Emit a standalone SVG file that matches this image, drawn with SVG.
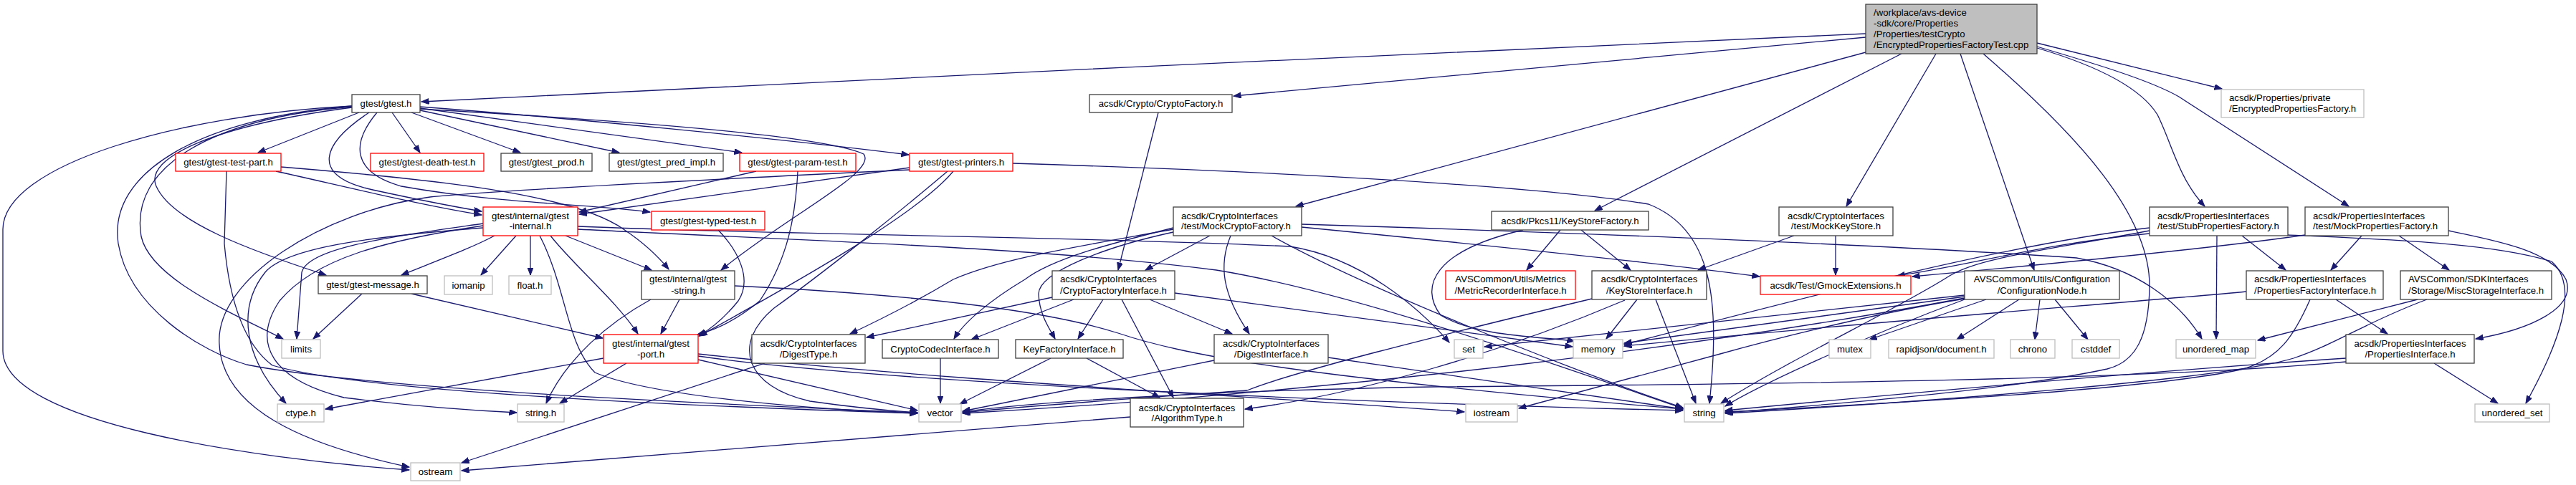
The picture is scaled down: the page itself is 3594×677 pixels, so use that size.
<svg xmlns="http://www.w3.org/2000/svg" width="3594" height="677" viewBox="0 0 3594 677">
<style>
.n rect{fill:#fff;stroke-width:1.3}
.k rect{stroke:#404040}
.r rect{stroke:#ff0000}
.g rect{stroke:#bfbfbf}
text{font-family:"Liberation Sans",Arial,sans-serif;font-size:13.2px;fill:#000}
.c text{text-anchor:middle}
#connectors path{fill:none;stroke:#191970;stroke-width:1.3;marker-end:url(#a)}
</style>
<defs>
<marker id="a" markerUnits="userSpaceOnUse" markerWidth="12" markerHeight="9" refX="10.5" refY="4" orient="auto"><path d="M0,0 L10.5,4 L0,8 z" fill="#191970" stroke="#191970" stroke-width="1"/></marker>
</defs>
<rect width="3594" height="677" fill="#fff"/>
<g id="connectors">
<path d="M2603,47 C2000,72 1200,112 588,142"/>
<path d="M2603,52 L1721,134"/>
<path d="M2603,73 L1808,288"/>
<path d="M2653,75 L2225,294"/>
<path d="M2701,75 L2576,288"/>
<path d="M2735,75 L2838,377"/>
<path d="M2767,75 C2900,190 3000,300 2999,400 C2998,470 2980,505 2940,515 C2800,545 2550,565 2407,576"/>
<path d="M2842,60 L3100,124"/>
<path d="M2842,65 C2920,88 3000,112 3040,135 L3277,288"/>
<path d="M2842,67 C2920,90 2985,120 3010,160 C3030,200 3040,250 3076,288"/>
<path d="M501,157 L360,213"/>
<path d="M547,157 L586,213"/>
<path d="M574,157 L726,213"/>
<path d="M586,154 L864,213"/>
<path d="M586,151 L1035,213"/>
<path d="M586,149 C800,165 1100,195 1268,216"/>
<path d="M515,157 C450,200 430,245 520,265 C580,278 630,288 672,295"/>
<path d="M526,157 C490,200 490,240 560,260 C700,285 830,285 907,296"/>
<path d="M586,152 C900,170 1150,190 1205,215 C1225,240 1100,300 1006,377"/>
<path d="M491,150 C300,175 200,220 218,260 C240,310 350,350 455,384"/>
<path d="M491,149 C300,165 180,230 197,330 C210,390 330,440 395,473"/>
<path d="M491,148 C250,160 5,230 4,320 L4,490 C5,590 350,640 571,656"/>
<path d="M491,148 C280,165 150,240 165,340 C180,430 280,490 344,509 C500,540 900,560 1280,576"/>
<path d="M392,233 C600,250 800,270 870,320 C900,340 920,360 933,376"/>
<path d="M385,239 C480,260 580,285 672,300"/>
<path d="M316,239 L313,340 C320,420 340,480 380,510 C500,545 900,565 1280,577"/>
<path d="M690,329 C660,345 620,360 560,384"/>
<path d="M720,329 L671,384"/>
<path d="M740,329 L740,384"/>
<path d="M768,329 C800,370 860,420 890,466"/>
<path d="M789,329 L909,377"/>
<path d="M753,329 C790,400 790,480 830,520 C900,550 1100,570 1280,577"/>
<path d="M806,316 C1100,328 1500,330 1800,344 C1900,360 1980,430 2022,478"/>
<path d="M806,320 C1100,335 1450,345 1697,377 C1900,410 2200,520 2348,570"/>
<path d="M674,312 C550,330 430,345 421,380 L414,473"/>
<path d="M674,315 C540,335 440,360 390,420 C350,480 380,530 480,555 C600,570 680,574 721,576"/>
<path d="M674,318 C520,330 400,345 370,380 C330,430 340,500 399,563"/>
<path d="M1269,234 L808,299"/>
<path d="M1330,239 C1280,300 1100,400 976,469"/>
<path d="M1269,237 C1000,250 700,265 600,275 C450,295 300,390 306,480 C310,570 420,620 571,652"/>
<path d="M1322,239 C1250,300 1150,380 1080,430 C1020,480 1040,540 1130,560 C1200,570 1250,574 1280,576"/>
<path d="M1413,228 C1800,240 2150,260 2300,285 C2390,320 2400,420 2385,563"/>
<path d="M1055,239 L808,296"/>
<path d="M1113,239 C1110,300 1100,360 1060,420 C1030,445 1000,460 973,467"/>
<path d="M1002,321 C1030,350 1050,390 1030,420 C1010,445 990,460 975,469"/>
<path d="M908,418 C850,450 790,500 762,563"/>
<path d="M948,418 L922,466"/>
<path d="M1025,399 C1250,410 1450,430 1560,465 C1650,495 1800,525 2348,571"/>
<path d="M505,410 L437,473"/>
<path d="M574,410 L841,472"/>
<path d="M842,500 L454,571"/>
<path d="M874,507 L781,563"/>
<path d="M974,502 L1280,573"/>
<path d="M974,497 C1200,530 1800,560 2348,573"/>
<path d="M974,494 C1300,530 1700,550 2043,575"/>
<path d="M1067,507 L644,646"/>
<path d="M1577,582 L644,657"/>
<path d="M1616,157 L1560,377"/>
<path d="M1637,320 C1500,345 1400,360 1330,390 C1280,420 1220,450 1186,466"/>
<path d="M1637,318 C1550,340 1470,360 1430,390 C1380,420 1345,450 1331,473"/>
<path d="M1637,324 C1540,345 1450,380 1449,410 C1450,440 1465,460 1472,473"/>
<path d="M1688,329 L1598,377"/>
<path d="M1717,329 C1700,370 1705,410 1743,466"/>
<path d="M1774,329 C1900,400 2200,520 2348,569"/>
<path d="M1816,313 C2200,325 2600,340 2897,360 C2980,375 3040,420 3072,473"/>
<path d="M1816,317 C2000,335 2300,365 2455,386"/>
<path d="M1468,415 L1209,471"/>
<path d="M1498,418 L1355,474"/>
<path d="M1539,418 L1504,473"/>
<path d="M1565,418 L1637,555"/>
<path d="M1604,418 L1719,466"/>
<path d="M1639,409 L2194,484"/>
<path d="M1312,500 L1312,563"/>
<path d="M1466,500 L1339,564"/>
<path d="M1516,500 L1618,555"/>
<path d="M1694,503 L1343,574"/>
<path d="M1853,499 L2348,571"/>
<path d="M2177,321 L2130,377"/>
<path d="M2206,321 L2275,377"/>
<path d="M2125,321 C2000,350 1980,400 2010,440 C2060,470 2150,470 2197,476"/>
<path d="M2221,417 C2000,470 1800,520 1740,545 C1600,555 1450,565 1343,576"/>
<path d="M2267,419 C2100,490 1900,550 1737,571"/>
<path d="M2284,418 L2241,473"/>
<path d="M2310,418 L2366,563"/>
<path d="M2561,329 L2561,384"/>
<path d="M2503,329 L2369,377"/>
<path d="M2771,418 L2608,474"/>
<path d="M2817,418 L2730,474"/>
<path d="M2846,418 L2839,474"/>
<path d="M2867,418 L2913,474"/>
<path d="M2741,412 L2071,484"/>
<path d="M2741,414 L2266,479"/>
<path d="M2741,417 C2600,440 2450,480 2400,494 L2119,570"/>
<path d="M2741,418 C2600,470 2450,540 2407,567"/>
<path d="M2741,416 C2400,480 1900,545 1343,577"/>
<path d="M3093,329 L3092,473"/>
<path d="M3128,329 L3189,377"/>
<path d="M2999,322 C2850,350 2760,360 2720,385 C2650,430 2500,500 2401,563"/>
<path d="M2999,318 C2800,340 2500,420 2266,481"/>
<path d="M2999,326 C2850,340 2750,370 2647,385"/>
<path d="M3192,328 C3350,335 3480,340 3560,365 C3600,400 3570,480 3524,563"/>
<path d="M3295,329 L3252,377"/>
<path d="M3347,329 L3417,377"/>
<path d="M3416,322 C3480,335 3560,350 3580,390 C3595,430 3530,460 3454,473"/>
<path d="M3216,328 C3100,345 2900,365 2668,386"/>
<path d="M3134,407 C3000,420 2600,450 2266,483"/>
<path d="M3223,418 C3200,470 3180,500 3130,515 C3000,545 2600,565 2407,575"/>
<path d="M3259,418 L3331,466"/>
<path d="M3373,418 L3150,475"/>
<path d="M3386,418 C3300,450 3260,480 3200,500 C3100,530 2700,560 2407,577"/>
<path d="M3396,507 L3485,563"/>
<path d="M3273,500 C3000,518 2700,545 2407,573"/>
<path d="M3273,505 C3000,530 2500,536 2000,540 C1700,545 1450,560 1343,575"/>
</g>
<g id="root" class="n"><rect x="2603" y="6" width="239" height="69" style="fill:#bfbfbf;stroke:#404040"/><text x="2614" y="21.5">/workplace/avs-device</text><text x="2614" y="36.5">-sdk/core/Properties</text><text x="2614" y="51.5">/Properties/testCrypto</text><text x="2614" y="66.5">/EncryptedPropertiesFactoryTest.cpp</text></g>
<g id="gtest" class="n k c"><rect x="491" y="132" width="95" height="25"/><text x="538.5" y="149">gtest/gtest.h</text></g>
<g id="testpart" class="n r c"><rect x="245" y="214" width="147" height="25"/><text x="318.5" y="231">gtest/gtest-test-part.h</text></g>
<g id="deathtest" class="n r c"><rect x="517" y="214" width="158" height="25"/><text x="596" y="231">gtest/gtest-death-test.h</text></g>
<g id="prod" class="n k c"><rect x="699" y="214" width="127" height="25"/><text x="762.5" y="231">gtest/gtest_prod.h</text></g>
<g id="predimpl" class="n k c"><rect x="850" y="214" width="159" height="25"/><text x="929.5" y="231">gtest/gtest_pred_impl.h</text></g>
<g id="paramtest" class="n r c"><rect x="1032" y="214" width="162" height="25"/><text x="1113" y="231">gtest/gtest-param-test.h</text></g>
<g id="printers" class="n r c"><rect x="1269" y="214" width="144" height="25"/><text x="1341" y="231">gtest/gtest-printers.h</text></g>
<g id="cryptofactory" class="n k c"><rect x="1520" y="132" width="199" height="25"/><text x="1619.5" y="149">acsdk/Crypto/CryptoFactory.h</text></g>
<g id="gtestinternal" class="n r c"><rect x="674" y="289" width="132" height="40"/><text x="740" y="305.5">gtest/internal/gtest</text><text x="740" y="319.5">-internal.h</text></g>
<g id="typedtest" class="n r c"><rect x="909" y="295" width="158" height="26"/><text x="988" y="312.5">gtest/gtest-typed-test.h</text></g>
<g id="mockcryptofactory" class="n k"><rect x="1637" y="289" width="179" height="40"/><text x="1648" y="305.5">acsdk/CryptoInterfaces</text><text x="1648" y="319.5">/test/MockCryptoFactory.h</text></g>
<g id="keystorefactory" class="n k c"><rect x="2081" y="295" width="219" height="26"/><text x="2190.5" y="312.5">acsdk/Pkcs11/KeyStoreFactory.h</text></g>
<g id="mockkeystore" class="n k c"><rect x="2482" y="289" width="159" height="40"/><text x="2561.5" y="305.5">acsdk/CryptoInterfaces</text><text x="2561.5" y="319.5">/test/MockKeyStore.h</text></g>
<g id="stubprops" class="n k"><rect x="2999" y="289" width="193" height="40"/><text x="3010" y="305.5">acsdk/PropertiesInterfaces</text><text x="3010" y="319.5">/test/StubPropertiesFactory.h</text></g>
<g id="mockprops" class="n k"><rect x="3216" y="289" width="200" height="40"/><text x="3227" y="305.5">acsdk/PropertiesInterfaces</text><text x="3227" y="319.5">/test/MockPropertiesFactory.h</text></g>
<g id="encprops" class="n g"><rect x="3099" y="125" width="199" height="39"/><text x="3110" y="140.5">acsdk/Properties/private</text><text x="3110" y="155.5">/EncryptedPropertiesFactory.h</text></g>
<g id="message" class="n k c"><rect x="444" y="385" width="152" height="25"/><text x="520" y="402">gtest/gtest-message.h</text></g>
<g id="iomanip" class="n g c"><rect x="620" y="385" width="67" height="26"/><text x="653.5" y="402.5">iomanip</text></g>
<g id="floath" class="n g c"><rect x="710" y="385" width="59" height="26"/><text x="739.5" y="402.5">float.h</text></g>
<g id="gteststring" class="n k c"><rect x="895" y="378" width="130" height="40"/><text x="960" y="393.5">gtest/internal/gtest</text><text x="960" y="409.5">-string.h</text></g>
<g id="cfi" class="n k"><rect x="1468" y="378" width="171" height="40"/><text x="1479" y="393.5">acsdk/CryptoInterfaces</text><text x="1479" y="409.5">/CryptoFactoryInterface.h</text></g>
<g id="metricrec" class="n r c"><rect x="2017" y="378" width="181" height="40"/><text x="2107.5" y="393.5">AVSCommon/Utils/Metrics</text><text x="2107.5" y="409.5">/MetricRecorderInterface.h</text></g>
<g id="keystoreif" class="n k c"><rect x="2221" y="378" width="160" height="40"/><text x="2301" y="393.5">acsdk/CryptoInterfaces</text><text x="2301" y="409.5">/KeyStoreInterface.h</text></g>
<g id="gmockext" class="n r c"><rect x="2456" y="385" width="210" height="26"/><text x="2561" y="402.5">acsdk/Test/GmockExtensions.h</text></g>
<g id="confignode" class="n k c"><rect x="2741" y="378" width="216" height="40"/><text x="2849" y="393.5">AVSCommon/Utils/Configuration</text><text x="2849" y="409.5">/ConfigurationNode.h</text></g>
<g id="pfi" class="n k"><rect x="3134" y="378" width="191" height="40"/><text x="3145" y="393.5">acsdk/PropertiesInterfaces</text><text x="3145" y="409.5">/PropertiesFactoryInterface.h</text></g>
<g id="miscstorage" class="n k"><rect x="3349" y="378" width="211" height="40"/><text x="3360" y="393.5">AVSCommon/SDKInterfaces</text><text x="3360" y="409.5">/Storage/MiscStorageInterface.h</text></g>
<g id="limits" class="n g c"><rect x="393" y="474" width="54" height="26"/><text x="420" y="491.5">limits</text></g>
<g id="codec" class="n k c"><rect x="1231" y="474" width="162" height="26"/><text x="1312" y="491.5">CryptoCodecInterface.h</text></g>
<g id="keyfactory" class="n k c"><rect x="1417" y="474" width="150" height="26"/><text x="1492" y="491.5">KeyFactoryInterface.h</text></g>
<g id="set" class="n g c"><rect x="2029" y="474" width="40" height="26"/><text x="2049" y="491.5">set</text></g>
<g id="memory" class="n g c"><rect x="2195" y="474" width="69" height="26"/><text x="2229.5" y="491.5">memory</text></g>
<g id="mutex" class="n g c"><rect x="2552" y="474" width="58" height="26"/><text x="2581" y="491.5">mutex</text></g>
<g id="rapidjson" class="n g c"><rect x="2635" y="474" width="147" height="26"/><text x="2708.5" y="491.5">rapidjson/document.h</text></g>
<g id="chrono" class="n g c"><rect x="2805" y="474" width="62" height="26"/><text x="2836" y="491.5">chrono</text></g>
<g id="cstddef" class="n g c"><rect x="2891" y="474" width="66" height="26"/><text x="2924" y="491.5">cstddef</text></g>
<g id="umap" class="n g c"><rect x="3036" y="474" width="111" height="26"/><text x="3091.5" y="491.5">unordered_map</text></g>
<g id="gtestport" class="n r c"><rect x="842" y="467" width="132" height="40"/><text x="908" y="483.5">gtest/internal/gtest</text><text x="908" y="498.5">-port.h</text></g>
<g id="digesttype" class="n k c"><rect x="1049" y="467" width="158" height="40"/><text x="1128" y="483.5">acsdk/CryptoInterfaces</text><text x="1128" y="498.5">/DigestType.h</text></g>
<g id="digestif" class="n k c"><rect x="1694" y="467" width="159" height="40"/><text x="1773.5" y="483.5">acsdk/CryptoInterfaces</text><text x="1773.5" y="498.5">/DigestInterface.h</text></g>
<g id="propsif" class="n k c"><rect x="3273" y="467" width="179" height="40"/><text x="3362.5" y="483.5">acsdk/PropertiesInterfaces</text><text x="3362.5" y="498.5">/PropertiesInterface.h</text></g>
<g id="algotype" class="n k c"><rect x="1577" y="556" width="158" height="40"/><text x="1656" y="573.5">acsdk/CryptoInterfaces</text><text x="1656" y="587.5">/AlgorithmType.h</text></g>
<g id="ctype" class="n g c"><rect x="387" y="564" width="65" height="25"/><text x="419.5" y="581">ctype.h</text></g>
<g id="stringh" class="n g c"><rect x="722" y="564" width="65" height="25"/><text x="754.5" y="581">string.h</text></g>
<g id="vector" class="n g c"><rect x="1282" y="564" width="59" height="25"/><text x="1311.5" y="581">vector</text></g>
<g id="iostream" class="n g c"><rect x="2045" y="564" width="72" height="25"/><text x="2081" y="581">iostream</text></g>
<g id="string" class="n g c"><rect x="2350" y="564" width="55" height="25"/><text x="2377.5" y="581">string</text></g>
<g id="uset" class="n g c"><rect x="3453" y="564" width="104" height="25"/><text x="3505" y="581">unordered_set</text></g>
<g id="ostream" class="n g c"><rect x="573" y="646" width="69" height="25"/><text x="607.5" y="663">ostream</text></g>
</svg>
